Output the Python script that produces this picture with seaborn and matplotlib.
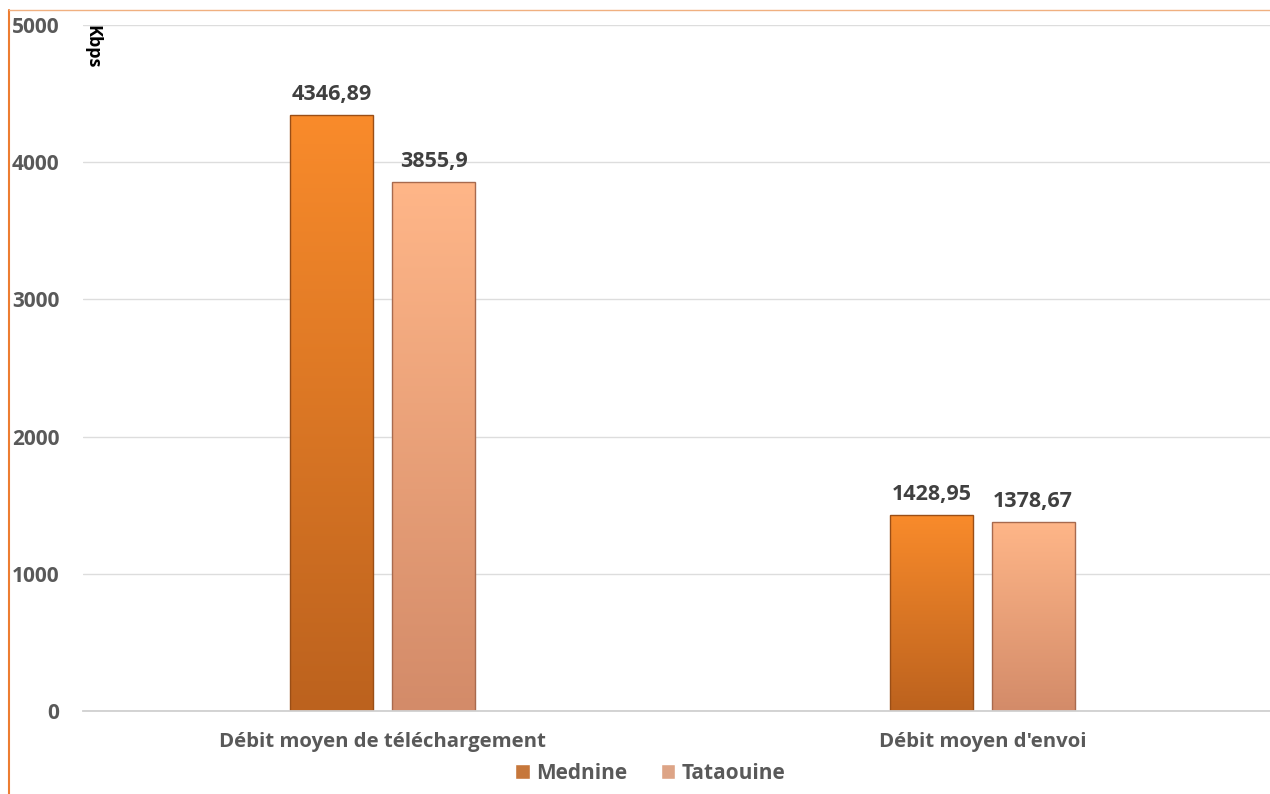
import numpy as np
import pandas as pd

import matplotlib
matplotlib.use("Agg")

import matplotlib.pyplot as plt
import seaborn as sns
from matplotlib.colors import LinearSegmentedColormap
from matplotlib.lines import Line2D

# données
categories = ["Débit moyen de téléchargement", "Débit moyen d'envoi"]
villes = ["Mednine", "Tataouine"]
mednine = [4346.89, 1428.95]
tataouine = [3855.9, 1378.67]

df = pd.DataFrame({
    "categorie": categories * 2,
    "ville": [villes[0]] * 2 + [villes[1]] * 2,
    "debit": mednine + tataouine,
})

# couleurs dégradées (haut, bas)
gradients = {
    "Mednine": ("#F98B2B", "#BC621E"),
    "Tataouine": ("#FFB688", "#D38B69"),
}
edges = {"Mednine": "#9A4E16", "Tataouine": "#A86A4E"}
palette = {"Mednine": "#DD7424", "Tataouine": "#EBA078"}

sns.set_theme(style="whitegrid")
plt.rcParams["font.family"] = ["Open Sans", "DejaVu Sans"]

fig = plt.figure(figsize=(12.7, 7.94), dpi=100)
ax = fig.add_axes([0.0654, 0.1045, 0.9346, 0.864])

sns.barplot(data=df, x="categorie", y="debit", hue="ville", order=categories,
            hue_order=villes, palette=palette, width=0.34, gap=0.186,
            ax=ax, legend=True)

ax.set_ylim(0, 5000)
ax.set_xlim(-0.5, 1.48)
ax.set_yticks([0, 1000, 2000, 3000, 4000, 5000])
ax.grid(axis="y", color="#DDDDDD", linewidth=1)
ax.grid(axis="x", visible=False)
for s in ["left", "right", "top"]:
    ax.spines[s].set_visible(False)
ax.spines["bottom"].set_color("#D0D0D0")
ax.spines["bottom"].set_linewidth(1.3)
ax.set_facecolor("white")

ax.tick_params(axis="y", length=0, pad=17, labelsize=15, labelcolor="#595959")
ax.tick_params(axis="x", length=0, pad=15, labelsize=14.7, labelcolor="#595959")
for lab in ax.get_yticklabels() + ax.get_xticklabels():
    lab.set_fontweight("bold")

ax.set_xlabel("")
ax.set_ylabel("Kbps", rotation=270, fontsize=13, fontweight="bold",
              color="black", ha="left", va="bottom")
ax.yaxis.set_label_coords(0.0, 1.0)

# dégradé sur chaque barre
for ville, cont in zip(villes, ax.containers):
    top, bottom = gradients[ville]
    cmap = LinearSegmentedColormap.from_list(ville, [bottom, top])
    for bar in cont:
        x0, y0 = bar.get_x(), bar.get_y()
        w, h = bar.get_width(), bar.get_height()
        grad = np.linspace(0, 1, 256).reshape(-1, 1)
        im = ax.imshow(grad, cmap=cmap, origin="lower", aspect="auto",
                       extent=[x0, x0 + w, y0, y0 + h], zorder=bar.get_zorder())
        im.set_clip_path(bar)
        bar.set_edgecolor(edges[ville])
        bar.set_linewidth(1.0)
        bar.set_facecolor("none")
        bar.set_zorder(bar.get_zorder() + 0.1)
    labels = [f"{v:g}".replace(".", ",") for v in cont.datavalues]
    ax.bar_label(cont, labels=labels, padding=7, fontsize=15.5,
                 fontweight="bold", color="#404040")

ax.set_xlim(-0.5, 1.48)
ax.set_ylim(0, 5000)

# légende
handles, labels = ax.get_legend_handles_labels()
ax.get_legend().remove()
fig.legend(handles, labels, loc="center", bbox_to_anchor=(0.512, 0.026),
           ncol=2, frameon=False, handlelength=0.7, handleheight=0.7,
           handletextpad=0.3, columnspacing=1.6,
           prop={"size": 15, "weight": "bold"}, labelcolor="#595959")

# cadre orange
fig.add_artist(Line2D([0.007, 0.007], [0.0, 0.987], color="#ED7D31",
                      linewidth=1.5, transform=fig.transFigure))
fig.add_artist(Line2D([0.007, 1.0], [0.987, 0.987], color="#F0B080",
                      linewidth=1.0, transform=fig.transFigure))

fig.savefig("out.png", dpi=100, facecolor="white")
